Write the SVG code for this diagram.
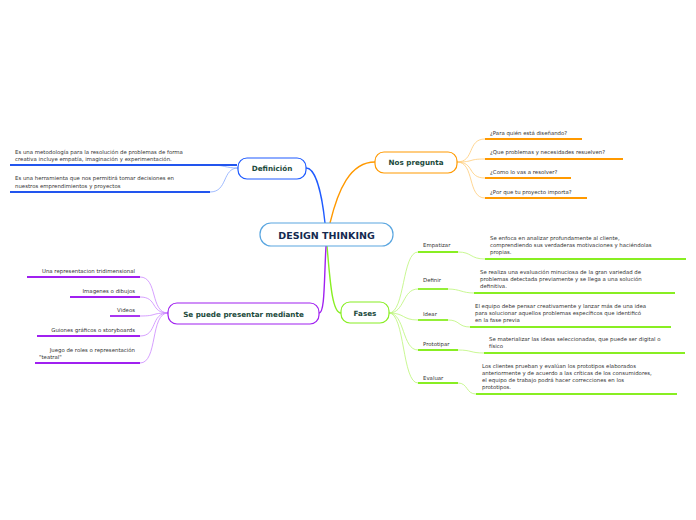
<svg xmlns="http://www.w3.org/2000/svg" width="696" height="520" viewBox="0 0 696 520">
<style>
.t{font-family:"DejaVu Sans",Verdana,sans-serif;font-size:5.4px;fill:#333}
.n{font-family:"DejaVu Sans",Verdana,sans-serif;font-size:7.2px;font-weight:bold;fill:#1b4a3c;text-anchor:middle}
.b{fill:none;stroke-width:1.4}
.c{fill:none;stroke-width:0.8}
.l{stroke-width:1.8}
</style>
<rect width="696" height="520" fill="#fff"/>
<g id="connectors">
<path class="b" stroke="#1f5bff" d="M325,223 C322,195 316,168 306,168"/>
<path class="b" stroke="#ff9900" d="M330,223 C338,190 350,162 375,162"/>
<path class="b" stroke="#88ee22" d="M327,246 C330,280 332,313 341,313"/>
<path class="b" stroke="#a020f0" d="M326,246 C324,280 325,313 319,313"/>
<g class="c" stroke="#88aaff"><path d="M238,168 C225,168 225,165 210,165"/><path d="M238,168 C222,168 228,192 210,192"/></g>
<g class="l" stroke="#2255ee"><path d="M10,165 H237"/><path d="M10,192 H210"/></g>
<g class="c" stroke="#cc88ff"><path d="M168,313 C150,313 158,277 140,277"/><path d="M168,313 C150,313 158,297 140,297"/><path d="M168,313 C150,313 158,316 140,316"/><path d="M168,313 C150,313 158,336 140,336"/><path d="M168,313 C150,313 158,363 140,363"/></g>
<g class="l" stroke="#a020f0"><path d="M27,277 H140"/><path d="M70,297 H140"/><path d="M110,316 H140"/><path d="M37,336 H140"/><path d="M35,363 H140"/></g>
<g class="c" stroke="#ffcc77"><path d="M457,162 C475,162 467,139 485,139"/><path d="M457,162 C475,162 467,159 485,159"/><path d="M457,162 C475,162 467,178 485,178"/><path d="M457,162 C475,162 467,198 485,198"/></g>
<g class="l" stroke="#ff9900"><path d="M485,139 H582"/><path d="M485,159 H623"/><path d="M485,178 H571"/><path d="M485,198 H587"/></g>
<g class="c" stroke="#bbf577"><path d="M389,313 C405,313 402,252 418,252"/><path d="M389,313 C405,313 402,289 418,289"/><path d="M389,313 C405,313 402,320 418,320"/><path d="M389,313 C405,313 402,350 418,350"/><path d="M389,313 C405,313 402,383 418,383"/>
<path d="M458,252 C472,252 470,259 485,259"/><path d="M448,289 C460,289 462,293 474,293"/><path d="M448,320 C460,320 458,327 470,327"/><path d="M458,350 C472,350 470,353 484,353"/><path d="M458,383 C468,383 466,394 476,394"/></g>
<g class="l" stroke="#88ee22"><path d="M418,252 H458"/><path d="M418,289 H448"/><path d="M418,320 H448"/><path d="M418,350 H458"/><path d="M418,383 H458"/>
<path d="M485,259 H686"/><path d="M474,293 H675"/><path d="M470,327 H671"/><path d="M484,353 H685"/><path d="M476,394 H677"/></g>
</g>
<g id="central"><rect x="260" y="223" width="133" height="23" rx="11" fill="#fff" stroke="#5aa6e0" stroke-width="1.2"/><text x="326.5" y="238.5" text-anchor="middle" style="font-family:'DejaVu Sans',Verdana,sans-serif;font-size:9.5px;font-weight:bold;fill:#142a50">DESIGN THINKING</text></g>
<g id="definicion"><rect x="238" y="158" width="68" height="21" rx="9" fill="#fff" stroke="#1f5bff" stroke-width="1.2"/><text class="n" x="272" y="171">Definición</text></g>
<g id="nospregunta"><rect x="375" y="152" width="82" height="21" rx="9" fill="#fff" stroke="#ff9900" stroke-width="1.2"/><text class="n" x="416" y="165">Nos pregunta</text></g>
<g id="fases"><rect x="341" y="302" width="48" height="21" rx="9" fill="#fff" stroke="#88ee22" stroke-width="1.2"/><text class="n" x="365" y="315.5">Fases</text></g>
<g id="sepuede"><rect x="168" y="303" width="151" height="21" rx="9" fill="#fff" stroke="#a020f0" stroke-width="1.2"/><text class="n" x="243.5" y="316.5">Se puede presentar mediante</text></g>
<g id="def-leaves"><text class="t" x="15" y="154">Es una metodología para la resolución de problemas de forma</text><text class="t" x="15" y="161">creativa incluye empatía, imaginación y experimentación.</text><text class="t" x="15" y="180">Es una herramienta que nos permitirá tomar decisiones en</text><text class="t" x="15" y="188">nuestros emprendimientos y proyectos</text></g>
<g id="sp-leaves" style="text-anchor:end"><text class="t" x="135" y="273">Una representacion tridimensional</text><text class="t" x="135" y="293">Imagenes o dibujos</text><text class="t" x="135" y="312">Videos</text><text class="t" x="135" y="332">Guiones gráficos o storyboards</text><text class="t" x="135" y="352">Juego de roles o representación</text></g>
<g id="sp-leaf5b"><text class="t" x="39" y="359">"teatral"</text></g>
<g id="np-leaves"><text class="t" x="490" y="135">¿Para quién está diseñando?</text><text class="t" x="490" y="154">¿Que problemas y necesidades resuelven?</text><text class="t" x="490" y="174">¿Como lo vas a resolver?</text><text class="t" x="490" y="194">¿Por que tu proyecto importa?</text></g>
<g id="fases-leaves"><text class="t" x="423" y="247">Empatizar</text><text class="t" x="423" y="282">Definir</text><text class="t" x="423" y="316">Idear</text><text class="t" x="423" y="346">Prototipar</text><text class="t" x="423" y="380">Evaluar</text>
<text class="t" x="490" y="240">Se enfoca en analizar profundamente al cliente,</text><text class="t" x="490" y="247">comprendiendo sus verdaderas motivaciones y haciéndolas</text><text class="t" x="490" y="254">propias.</text>
<text class="t" x="480" y="274">Se realiza una evaluación minuciosa de la gran variedad de</text><text class="t" x="480" y="281">problemas detectada previamente y se llega a una solución</text><text class="t" x="480" y="288">definitiva.</text>
<text class="t" x="475" y="308">El equipo debe pensar creativamente y lanzar más de una idea</text><text class="t" x="475" y="315">para solucionar aquellos problemas específicos que identificó</text><text class="t" x="475" y="322">en la fase previa</text>
<text class="t" x="489" y="341">Se materializar las ideas seleccionadas, que puede ser digital o</text><text class="t" x="489" y="348">físico</text>
<text class="t" x="482" y="368">Los clientes prueban y evalúan los prototipos elaborados</text><text class="t" x="482" y="375">anteriormente y de acuerdo a las críticas de los consumidores,</text><text class="t" x="482" y="382">el equipo de trabajo podrá hacer correcciones en los</text><text class="t" x="482" y="389">prototipos.</text></g>
</svg>
